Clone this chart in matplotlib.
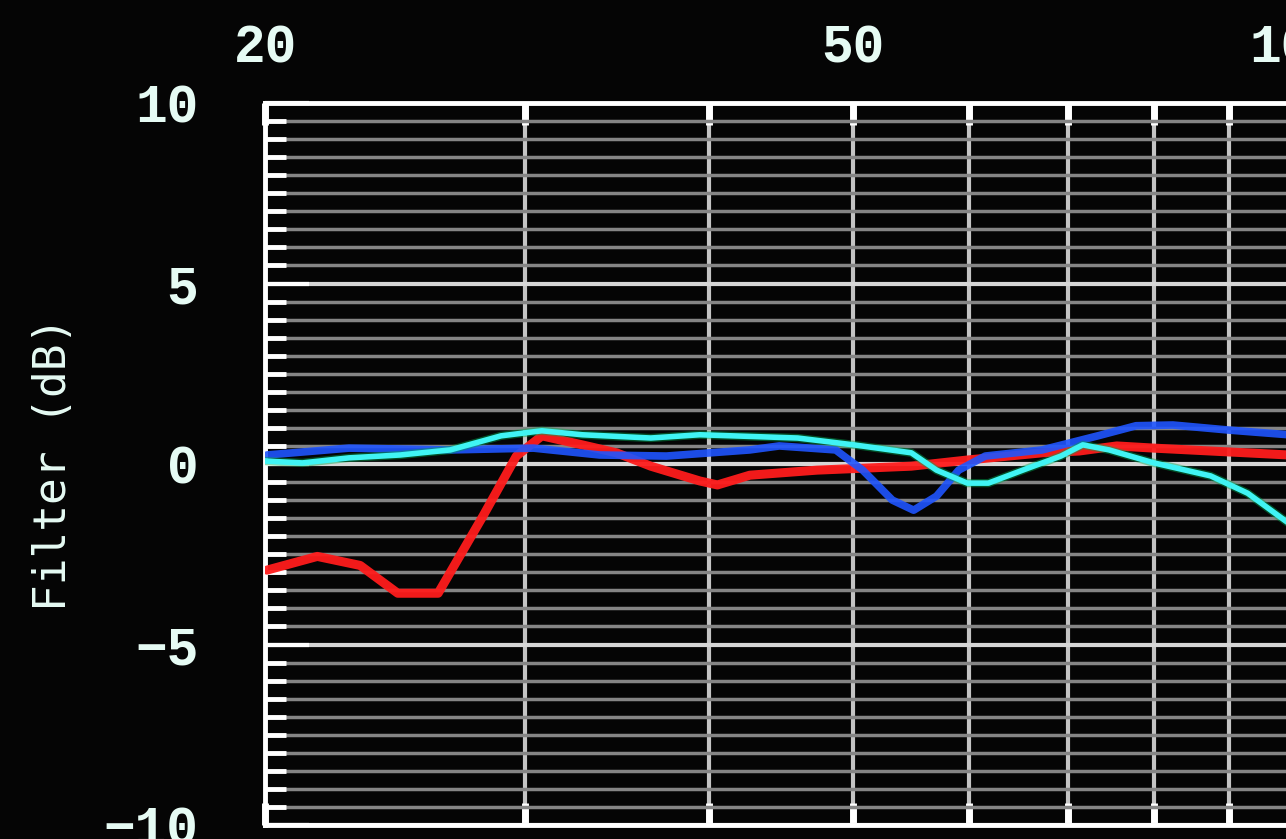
import matplotlib
matplotlib.use("Agg")
import matplotlib.pyplot as plt
from matplotlib.ticker import FixedLocator, NullFormatter, MultipleLocator

# frequency (Hz) / filter gain (dB)
red_f = [20.06, 21.7, 23.2, 24.6, 26.2, 28.1, 29.6, 30.8, 32.8, 34.6, 36.5,
         39.4, 40.5, 42.6, 47.3, 54.8, 59.8, 67.2, 71.2, 75.5, 80.0, 87.4, 98.7]
red_db = [-2.94, -2.56, -2.81, -3.58, -3.58, -1.44, 0.22, 0.78, 0.53, 0.31, -0.06,
          -0.47, -0.58, -0.31, -0.17, -0.06, 0.11, 0.31, 0.36, 0.50, 0.44, 0.36, 0.25]

blue_f = [20.06, 22.8, 26.7, 30.4, 33.7, 37.4, 42.6, 44.6, 48.7, 50.8, 53.2,
          55.0, 57.0, 59.0, 61.5, 67.2, 73.3, 77.8, 82.4, 89.9, 98.7]
blue_db = [0.25, 0.44, 0.39, 0.44, 0.25, 0.22, 0.39, 0.50, 0.39, -0.17, -1.00,
           -1.28, -0.89, -0.17, 0.22, 0.39, 0.78, 1.06, 1.08, 0.94, 0.81]

cyan_f = [20.06, 21.2, 22.8, 24.7, 26.7, 28.9, 30.8, 32.8, 36.5, 39.4, 45.9, 50.1,
          54.8, 57.0, 59.8, 61.8, 65.2, 69.2, 71.6, 74.6, 80.0, 87.4, 92.6, 98.7]
cyan_db = [0.08, 0.03, 0.17, 0.25, 0.39, 0.78, 0.92, 0.81, 0.72, 0.81, 0.72, 0.53,
           0.31, -0.17, -0.53, -0.53, -0.17, 0.22, 0.53, 0.39, 0.03, -0.33, -0.81, -1.64]

x_major = [20, 50, 100]
x_minor = [30, 40, 60, 70, 80, 90]
y_major = [-10, -5, 0, 5, 10]

fg = '#e6fbf4'
bg = '#050505'

fig = plt.figure(figsize=(12.86, 8.39), dpi=100, facecolor=bg)
ax = fig.add_axes([265 / 1286, 14 / 839, 1032 / 1286, 722 / 839])
ax.set_facecolor(bg)

ax.plot(red_f, red_db, color='#ff1c1c', lw=6.5, alpha=0.95, solid_capstyle='round', zorder=5)
ax.plot(blue_f, blue_db, color='#1f55ff', lw=5.5, alpha=0.9, solid_capstyle='round', zorder=6)
# green trace sits right under the cyan one
ax.plot(cyan_f, cyan_db, color='#00a850', lw=6, alpha=0.45, zorder=7)
ax.plot(cyan_f, cyan_db, color='#40f4f4', lw=4, zorder=8)

ax.set_xscale('log')
ax.set_xlim(20, 100)
ax.set_ylim(-10, 10)

ax.xaxis.set_major_locator(FixedLocator(x_major))
ax.xaxis.set_minor_locator(FixedLocator(x_minor))
ax.xaxis.set_minor_formatter(NullFormatter())
ax.yaxis.set_major_locator(FixedLocator(y_major))
ax.yaxis.set_minor_locator(MultipleLocator(0.5))

tick_font = {'family': 'Liberation Mono', 'weight': 'bold', 'size': 38}
ax.set_xticklabels([f"{v:g}" for v in x_major], fontdict=tick_font)
ax.set_yticklabels([f"{v:g}".replace('-', '\u2212') for v in y_major], fontdict=tick_font)

ax.tick_params(axis='x', which='both', direction='in', top=True, bottom=True,
               labeltop=True, labelbottom=False, colors='white', width=5,
               length=16, labelcolor=fg, pad=21)
ax.tick_params(axis='y', which='major', direction='in', left=True, right=False,
               length=32, width=3, colors='white', labelcolor=fg, pad=48)
ax.tick_params(axis='y', which='minor', direction='in', left=True, right=False,
               length=15, width=3.5, colors='white')

ax.grid(which='minor', axis='y', color='#858585', lw=2.5)
ax.grid(which='major', axis='y', color='#d6d6d6', lw=3)
ax.grid(which='both', axis='x', color='#c4c4c4', lw=3)
ax.set_axisbelow(True)

for s in ax.spines.values():
    s.set_color('white')
    s.set_linewidth(3.5)

ax.set_ylabel("Filter (dB)", family='DejaVu Sans Mono', size=32, color=fg)
ax.yaxis.set_label_coords(-0.184, 0.5)

fig.savefig("out.png", dpi=100, facecolor=bg)
